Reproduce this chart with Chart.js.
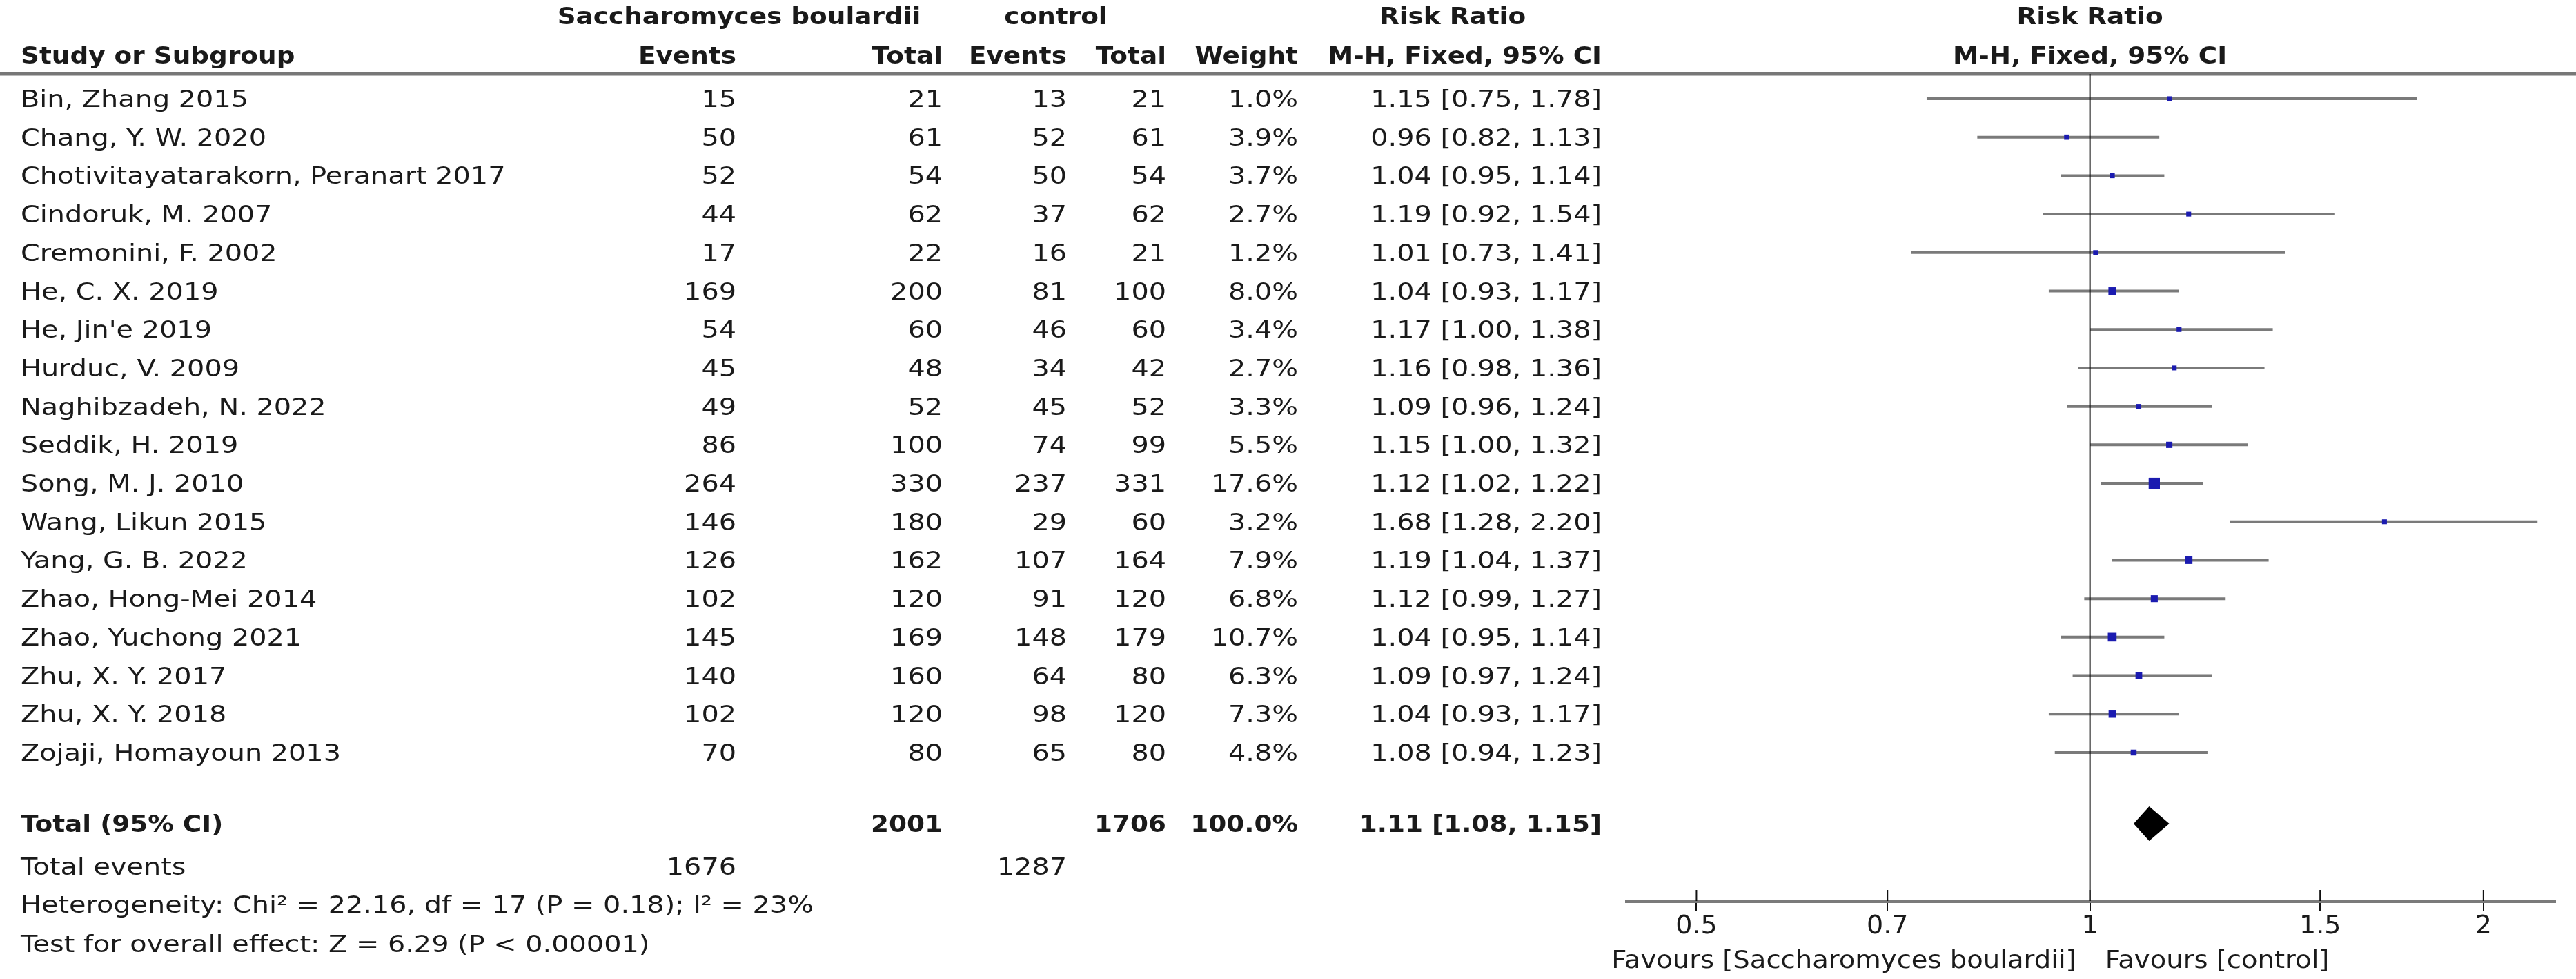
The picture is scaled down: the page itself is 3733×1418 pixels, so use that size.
<!DOCTYPE html>
<html>
<head>
<meta charset="utf-8">
<title>Forest plot</title>
<script src="https://cdn.jsdelivr.net/npm/chart.js@4.4.1/dist/chart.umd.min.js"></script>
<style>
  html, body { margin: 0; padding: 0; background: #fff; }
  canvas { display: block; }
</style>
</head>
<body>
<canvas id="forestChart" width="3733" height="1418"></canvas>
<script>
// data
const studies = ['Bin, Zhang 2015', 'Chang, Y. W. 2020', 'Chotivitayatarakorn, Peranart 2017', 'Cindoruk, M. 2007',
  'Cremonini, F. 2002', 'He, C. X. 2019', "He, Jin'e 2019", 'Hurduc, V. 2009', 'Naghibzadeh, N. 2022', 'Seddik, H. 2019',
  'Song, M. J. 2010', 'Wang, Likun 2015', 'Yang, G. B. 2022', 'Zhao, Hong-Mei 2014', 'Zhao, Yuchong 2021',
  'Zhu, X. Y. 2017', 'Zhu, X. Y. 2018', 'Zojaji, Homayoun 2013'];
const expEvents = [15, 50, 52, 44, 17, 169, 54, 45, 49, 86, 264, 146, 126, 102, 145, 140, 102, 70];
const expTotal = [21, 61, 54, 62, 22, 200, 60, 48, 52, 100, 330, 180, 162, 120, 169, 160, 120, 80];
const ctrlEvents = [13, 52, 50, 37, 16, 81, 46, 34, 45, 74, 237, 29, 107, 91, 148, 64, 98, 65];
const ctrlTotal = [21, 61, 54, 62, 21, 100, 60, 42, 52, 99, 331, 60, 164, 120, 179, 80, 120, 80];
const weights = [1.0, 3.9, 3.7, 2.7, 1.2, 8.0, 3.4, 2.7, 3.3, 5.5, 17.6, 3.2, 7.9, 6.8, 10.7, 6.3, 7.3, 4.8];
const riskRatio = [1.15, 0.96, 1.04, 1.19, 1.01, 1.04, 1.17, 1.16, 1.09, 1.15, 1.12, 1.68, 1.19, 1.12, 1.04, 1.09, 1.04, 1.08];
const ciLow = [0.75, 0.82, 0.95, 0.92, 0.73, 0.93, 1.00, 0.98, 0.96, 1.00, 1.02, 1.28, 1.04, 0.99, 0.95, 0.97, 0.93, 0.94];
const ciHigh = [1.78, 1.13, 1.14, 1.54, 1.41, 1.17, 1.38, 1.36, 1.24, 1.32, 1.22, 2.20, 1.37, 1.27, 1.14, 1.24, 1.17, 1.23];

const totalExp = 2001;
const totalCtrl = 1706;
const totalWeight = '100.0%';
const pooled = [1.11, 1.08, 1.15];   // estimate, lower, upper
const totalEventsExp = 1676;
const totalEventsCtrl = 1287;
const heterogeneityText = 'Heterogeneity: Chi² = 22.16, df = 17 (P = 0.18); I² = 23%';
const overallText = 'Test for overall effect: Z = 6.29 (P < 0.00001)';

const tickValues = [0.5, 0.7, 1, 1.5, 2];
const leftFavour = 'Favours [Saccharomyces boulardii]';
const rightFavour = 'Favours [control]';

// layout (rows are in y-scale units)
const FONT = '"DejaVu Sans", "Liberation Sans", sans-serif';
const TEXT_SIZE = 34;
const rowTotal = 18.85, rowEvents = 19.96, rowHet = 20.95, rowTest = 21.97;
const rowHead1 = -2.15, rowHead2 = -1.13;
const col = { study: 30, expEv: 1067, expTot: 1366, ctlEv: 1546, ctlTot: 1690, weight: 1881, ci: 2321 };

function fmt2(v) { return v.toFixed(2); }
function ciText(r, l, h) { return fmt2(r) + ' [' + fmt2(l) + ', ' + fmt2(h) + ']'; }

// CI lines, one small dataset per study
const ciSets = studies.map((s, i) => ({
  type: 'line',
  label: s,
  data: [{ x: ciLow[i], y: i }, { x: ciHigh[i], y: i }],
  borderColor: '#7a7a7a',
  borderWidth: 4,
  pointRadius: 0,
  showLine: true,
  order: 2
}));

// squares sized by weight
const squareSet = {
  type: 'scatter',
  label: 'RR',
  data: riskRatio.map((r, i) => ({ x: r, y: i })),
  pointStyle: 'rect',
  pointRadius: weights.map(w => Math.max(5, 11.5 * Math.sqrt(w / 17.6))),
  backgroundColor: '#1b1bb0',
  borderWidth: 0,
  order: 1
};

const forestPlugin = {
  id: 'forestExtras',
  beforeDatasetsDraw(chart) {
    const ctx = chart.ctx;
    const x = chart.scales.x;
    const area = chart.chartArea;
    ctx.save();
    // header rule
    ctx.strokeStyle = '#777';
    ctx.lineWidth = 5;
    ctx.beginPath();
    ctx.moveTo(0, area.top);
    ctx.lineTo(chart.width, area.top);
    ctx.stroke();
    // upper halves of tick marks
    ctx.strokeStyle = '#111';
    ctx.lineWidth = 2;
    x.ticks.forEach(t => {
      const px = x.getPixelForValue(t.value);
      ctx.beginPath();
      ctx.moveTo(px, area.bottom - 16);
      ctx.lineTo(px, area.bottom);
      ctx.stroke();
    });
    ctx.restore();
  },
  afterDatasetsDraw(chart) {
    const ctx = chart.ctx;
    const x = chart.scales.x;
    const y = chart.scales.y;
    const area = chart.chartArea;
    ctx.save();
    // line of no effect
    const x1 = x.getPixelForValue(1);
    ctx.strokeStyle = '#111';
    ctx.lineWidth = 2;
    ctx.beginPath();
    ctx.moveTo(x1, area.top);
    ctx.lineTo(x1, area.bottom);
    ctx.stroke();

    // pooled diamond
    const yc = y.getPixelForValue(rowTotal);
    const half = 25;
    ctx.fillStyle = '#000';
    ctx.beginPath();
    ctx.moveTo(x.getPixelForValue(pooled[1]), yc);
    ctx.lineTo(x.getPixelForValue(pooled[0]), yc - half);
    ctx.lineTo(x.getPixelForValue(pooled[2]), yc);
    ctx.lineTo(x.getPixelForValue(pooled[0]), yc + half);
    ctx.closePath();
    ctx.fill();

    // table text, stretched a little sideways like the source
    const txtAt = (s, px, py, align, bold, size, sx) => {
      ctx.save();
      ctx.font = (bold ? 'bold ' : '') + size + 'px ' + FONT;
      ctx.textAlign = align;
      ctx.textBaseline = 'alphabetic';
      ctx.translate(px, py);
      ctx.scale(sx, 1);
      ctx.fillText(s, 0, 0);
      ctx.restore();
    };
    const txt = (s, px, row, align, bold) =>
      txtAt(s, px, y.getPixelForValue(row) + 12, align, bold, TEXT_SIZE, bold ? 1.1 : 1.17);
    ctx.fillStyle = '#1a1a1a';

    txt('Saccharomyces boulardii', 1071, rowHead1, 'center', true);
    txt('control', 1530, rowHead1, 'center', true);
    txt('Risk Ratio', 2105, rowHead1, 'center', true);
    txt('Risk Ratio', x1, rowHead1, 'center', true);
    txt('Study or Subgroup', col.study, rowHead2, 'left', true);
    txt('Events', col.expEv, rowHead2, 'right', true);
    txt('Total', col.expTot, rowHead2, 'right', true);
    txt('Events', col.ctlEv, rowHead2, 'right', true);
    txt('Total', col.ctlTot, rowHead2, 'right', true);
    txt('Weight', col.weight, rowHead2, 'right', true);
    txt('M-H, Fixed, 95% CI', col.ci, rowHead2, 'right', true);
    txt('M-H, Fixed, 95% CI', x1, rowHead2, 'center', true);

    studies.forEach((s, i) => {
      txt(s, col.study, i, 'left');
      txt(String(expEvents[i]), col.expEv, i, 'right');
      txt(String(expTotal[i]), col.expTot, i, 'right');
      txt(String(ctrlEvents[i]), col.ctlEv, i, 'right');
      txt(String(ctrlTotal[i]), col.ctlTot, i, 'right');
      txt(weights[i].toFixed(1) + '%', col.weight, i, 'right');
      txt(ciText(riskRatio[i], ciLow[i], ciHigh[i]), col.ci, i, 'right');
    });

    txt('Total (95% CI)', col.study, rowTotal, 'left', true);
    txt(String(totalExp), col.expTot, rowTotal, 'right', true);
    txt(String(totalCtrl), col.ctlTot, rowTotal, 'right', true);
    txt(totalWeight, col.weight, rowTotal, 'right', true);
    txt(ciText(pooled[0], pooled[1], pooled[2]), col.ci, rowTotal, 'right', true);

    txt('Total events', col.study, rowEvents, 'left');
    txt(String(totalEventsExp), col.expEv, rowEvents, 'right');
    txt(String(totalEventsCtrl), col.ctlEv, rowEvents, 'right');
    txt(heterogeneityText, col.study, rowHet, 'left');
    txt(overallText, col.study, rowTest, 'left');

    // favours labels under the axis
    txtAt(leftFavour, x1 - 20, area.bottom + 97, 'right', false, 36, 1.07);
    txtAt(rightFavour, x1 + 22, area.bottom + 97, 'left', false, 36, 1.07);
    ctx.restore();
  }
};

new Chart(document.getElementById('forestChart'), {
  data: { datasets: [squareSet].concat(ciSets) },
  options: {
    responsive: false,
    devicePixelRatio: 1,
    animation: false,
    layout: { padding: { left: 2357, right: 30, top: 107, bottom: 53 } },
    plugins: { legend: { display: false }, tooltip: { enabled: false } },
    scales: {
      x: {
        type: 'logarithmic',
        position: 'bottom',
        min: 0.442,
        max: 2.27,
        afterBuildTicks: (axis) => { axis.ticks = tickValues.map(v => ({ value: v })); },
        afterFit: (axis) => { axis.height = 60; },
        border: { display: true, color: '#7a7a7a', width: 5 },
        grid: { drawOnChartArea: false, drawTicks: true, tickLength: 14, color: '#111', lineWidth: 2 },
        ticks: {
          autoSkip: false,
          maxRotation: 0,
          padding: 0,
          color: '#1a1a1a',
          font: { family: FONT, size: 38 },
          callback: (v) => String(v)
        }
      },
      y: {
        type: 'linear',
        display: false,
        reverse: true,
        min: -0.646,
        max: 20.86
      }
    }
  },
  plugins: [forestPlugin]
});
</script>
</body>
</html>
